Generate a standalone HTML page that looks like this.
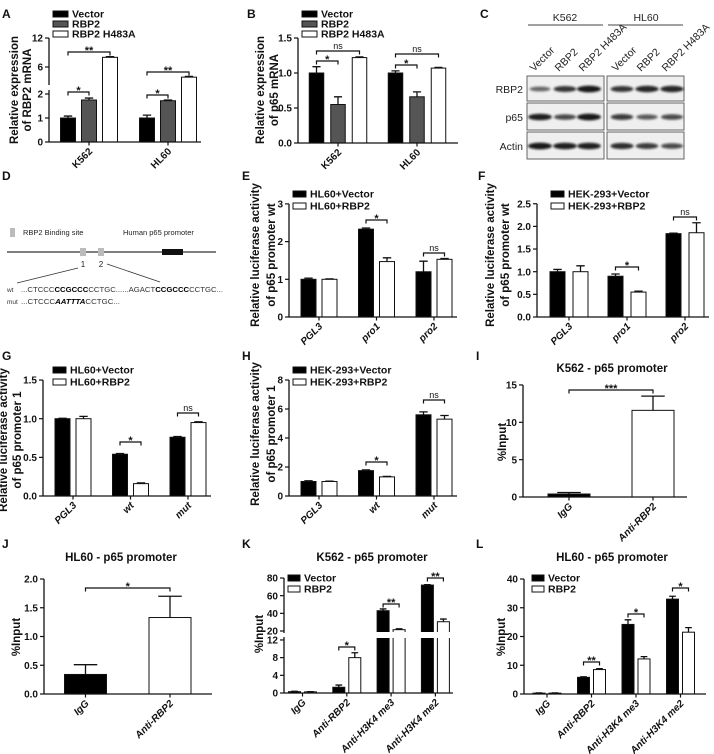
<!DOCTYPE html>
<html><head><meta charset="utf-8"><title>RBP2 / p65 figure</title>
<style>
html,body{margin:0;padding:0;background:#fff;}
svg{display:block;font-family:"Liberation Sans",Arial,sans-serif;}
</style></head>
<body>
<svg id="fig" width="714" height="754" viewBox="0 0 714 754" xmlns="http://www.w3.org/2000/svg">
<defs><filter id="blur" x="-50%" y="-100%" width="200%" height="300%"><feGaussianBlur stdDeviation="1.1"/></filter></defs>
</svg>
<script>
// ---------- DATA ----------
const catsA=['K562','HL60'];
const vecA=[1.0,1.0]; const vecAErr=[0.08,0.12];
const rbpA=[1.75,1.72]; const rbpAErr=[0.08,0.03];
const mutA=[8.0,3.9]; const mutAErr=[0.15,0.15];
const ticksA=[0,1,2,6,12];

const catsB=['K562','HL60'];
const vecB=[1.0,1.0]; const vecBErr=[0.09,0.03];
const rbpB=[0.55,0.66]; const rbpBErr=[0.11,0.07];
const mutB=[1.22,1.07]; const mutBErr=[0.01,0.01];
const ticksB=[0,0.5,1.0,1.5];

const catsE=['PGL3','pro1','pro2'];
const vecE=[1.0,2.33,1.2]; const vecEErr=[0.03,0.03,0.28];
const rbpE=[1.0,1.47,1.53]; const rbpEErr=[0.01,0.1,0.02];
const ticksE=[0,1,2,3];

const catsF=['PGL3','pro1','pro2'];
const vecF=[1.0,0.9,1.84]; const vecFErr=[0.05,0.05,0.01];
const rbpF=[1.0,0.55,1.86]; const rbpFErr=[0.13,0.02,0.22];
const ticksF=[0,0.5,1.0,1.5,2.0,2.5];

const catsG=['PGL3','wt','mut'];
const vecG=[1.0,0.54,0.76]; const vecGErr=[0.005,0.01,0.01];
const rbpG=[1.0,0.16,0.95]; const rbpGErr=[0.03,0.01,0.01];
const ticksG=[0,0.5,1.0,1.5];

const catsH=['PGL3','wt','mut'];
const vecH=[1.0,1.75,5.6]; const vecHErr=[0.05,0.05,0.2];
const rbpH=[1.0,1.32,5.3]; const rbpHErr=[0.02,0.03,0.25];
const ticksH=[0,2,4,6,8];

const catsI=['IgG','Anti-RBP2'];
const valsI=[0.4,11.6]; const valsIErr=[0.2,1.9];
const ticksI=[0,5,10,15];

const catsJ=['IgG','Anti-RBP2'];
const valsJ=[0.34,1.33]; const valsJErr=[0.17,0.37];
const ticksJ=[0,0.5,1.0,1.5,2.0];

const catsK=['IgG','Anti-RBP2','Anti-H3K4 me3','Anti-H3K4 me2'];
const vecK=[0.3,1.3,43,72]; const vecKErr=[0.1,0.5,2,0.5];
const rbpK=[0.25,8.0,21.5,30.5]; const rbpKErr=[0.05,1.1,1,3];
const ticksK=[0,4,8,12,20,40,60,80];

const catsL=['IgG','Anti-RBP2','Anti-H3K4 me3','Anti-H3K4 me2'];
const vecL=[0.3,5.8,24.2,33]; const vecLErr=[0.1,0.2,1.6,1];
const rbpL=[0.3,8.5,12.2,21.5]; const rbpLErr=[0.1,0.3,0.8,1.6];
const ticksL=[0,10,20,30,40];

// ---------- helpers ----------
const NS='http://www.w3.org/2000/svg';
const svg=document.getElementById('fig');
function el(tag,attrs,parent){const e=document.createElementNS(NS,tag);for(const k in attrs)e.setAttribute(k,attrs[k]);(parent||svg).appendChild(e);return e;}
function txt(x,y,s,attrs,parent){const t=el('text',Object.assign({x:x,y:y},attrs||{}),parent);t.textContent=s;return t;}
function fmt(v,d){return d?v.toFixed(d):String(v);}

function drawBracket(g,x1,x2,yy,label){
  const br=el('path',{d:'M'+x1+' '+(yy+3.5)+'V'+yy+'H'+x2+'V'+(yy+3.5),stroke:'#111','stroke-width':1.2,fill:'none'},g);
  
  
  const st=txt((x1+x2)/2,yy-(label==='ns'?2:-2),label,{'text-anchor':'middle','font-size':label==='ns'?9:11,'font-weight':label==='ns'?'normal':'bold',fill:'#111'},g);
  
  
}

function drawChart(L){
  const g=el('g',{});
  
  
  const y0=L.y(0);
  const n=L.series.length;
  const total=n*L.bw+(n-1)*L.gap;
  const centerOf=(i,k)=>L.c0+i*L.band-total/2+k*(L.bw+L.gap)+L.bw/2;
  L.series.forEach((s,k)=>{
    s.vals.forEach((v,i)=>{
      const left=centerOf(i,k)-L.bw/2;
      const yt=L.y(v);
      const fill=Array.isArray(s.fill)?s.fill[i]:s.fill;
      const r=el('rect',{x:left,y:yt,width:L.bw,height:Math.max(0.5,y0-yt),fill:fill,stroke:'#111','stroke-width':1},g);
      
      
      const ye=L.y(v+s.errs[i]);
      const cx=centerOf(i,k);
      const eb=el('path',{d:'M'+cx+' '+yt+'V'+ye+'M'+(cx-L.bw*0.28)+' '+ye+'H'+(cx+L.bw*0.28),stroke:'#111','stroke-width':1.3,fill:'none'},g);
      
      
    });
  });
  if(L.breakBand){
    const wb=el('rect',{x:L.x0+1,y:L.breakBand[0],width:L.xEnd-L.x0,height:L.breakBand[1]-L.breakBand[0],fill:'#fff'},g);
    
    
  }
  const top=L.y(L.ticks[L.ticks.length-1]);
  let d;
  if(L.axisBreak){d='M'+L.x0+' '+y0+'V'+L.axisBreak[1]+'M'+L.x0+' '+L.axisBreak[0]+'V'+top;}
  else d='M'+L.x0+' '+y0+'V'+top;
  const ya=el('path',{d:d,stroke:'#111','stroke-width':1.3,fill:'none'},g);
  
  
  L.ticks.forEach(t=>{
    const yy=L.y(t);
    const tl=el('line',{x1:L.x0-4,x2:L.x0,y1:yy,y2:yy,stroke:'#111','stroke-width':1.2},g);
    
    
    const tt=txt(L.x0-6,yy+3.6,fmt(t,L.dec),{'text-anchor':'end','font-size':10,'font-weight':'bold',fill:'#111'},g);
    
    
  });
  const xa=el('line',{x1:L.x0,x2:L.xEnd,y1:y0,y2:y0,stroke:'#111','stroke-width':1.3},g);
  
  
  L.cats.forEach((c,i)=>{
    const cx=L.c0+i*L.band;
    const xt=el('line',{x1:cx,x2:cx,y1:y0,y2:y0+3.5,stroke:'#111','stroke-width':1.2},g);
    
    
    const ax=cx+4, ay=y0+10;
    const lt=txt(ax,ay,c,{'text-anchor':'end','font-size':10,'font-weight':'bold','font-style':L.italic?'italic':'normal',fill:'#111',transform:'rotate(-45 '+ax+' '+ay+')'},g);
    
    
  });
  L.ylabel.forEach((s,j)=>{
    const lx=L.ylx[j], ly=L.yly;
    const yl=txt(lx,ly,s,{'text-anchor':'middle','font-size':11.5,'font-weight':'bold',fill:'#111',transform:'rotate(-90 '+lx+' '+ly+')'},g);
    
    
  });
  (L.sig||[]).forEach(sg=>drawBracket(g,centerOf(sg[0],sg[1]),centerOf(sg[0],sg[2]),sg[3],sg[4]));
  (L.sigCats||[]).forEach(sg=>drawBracket(g,centerOf(sg[0],0),centerOf(sg[1],0),sg[2],sg[3]));
  (L.legend||[]).forEach(lg=>{
    const lb=el('rect',{x:lg[0],y:lg[1],width:lg[2],height:6,fill:lg[4],stroke:'#111','stroke-width':1},g);
    
    
    const lt=txt(lg[0]+lg[2]+4,lg[1]+6.5,lg[3],{'font-size':10.5,'font-weight':'bold',fill:'#111'},g);
    
    
  });
  if(L.title){
    const tt=txt(L.title[1],L.title[2],L.title[0],{'text-anchor':'middle','font-size':11.5,'font-weight':'bold',fill:'#111'},g);
    
    
  }
}
function lin(zeroY,ppu){return v=>zeroY-v*ppu;}
const BLK='#000', GRY='#555', WHT='#fff';

drawChart({name:'panel-a-rbp2-mrna',x0:49,xEnd:201,c0:89,band:79,bw:15,gap:6,cats:catsA,ticks:ticksA,
  y:v=>v<=2.2?142-24*v:67-(v-6)*4.83,axisBreak:[85,90],
  series:[{key:'vector',vals:vecA,errs:vecAErr,fill:BLK},{key:'rbp2',vals:rbpA,errs:rbpAErr,fill:GRY},{key:'rbp2-h483a',vals:mutA,errs:mutAErr,fill:WHT}],
  ylabel:['Relative expression','of RBP2 mRNA'],ylx:[18,31],yly:90,
  sig:[[0,0,1,92,'*'],[0,0,2,52,'**'],[1,0,1,95,'*'],[1,0,2,72,'**']],
  legend:[[53,11,15,'Vector',BLK],[53,21,15,'RBP2',GRY],[53,31,15,'RBP2 H483A',WHT]]});
drawChart({name:'panel-b-p65-mrna',x0:298,xEnd:458,c0:338,band:79,bw:14.5,gap:7,cats:catsB,ticks:ticksB,dec:1,
  y:lin(143,70),
  series:[{key:'vector',vals:vecB,errs:vecBErr,fill:BLK},{key:'rbp2',vals:rbpB,errs:rbpBErr,fill:GRY},{key:'rbp2-h483a',vals:mutB,errs:mutBErr,fill:WHT}],
  ylabel:['Relative expression','of p65 mRNA'],ylx:[264,278],yly:90,
  sig:[[0,0,1,61,'*'],[0,0,2,51,'ns'],[1,0,1,65,'*'],[1,0,2,54,'ns']],
  legend:[[302,11,15,'Vector',BLK],[302,21,15,'RBP2',GRY],[302,31,15,'RBP2 H483A',WHT]]});
drawChart({name:'panel-e-luciferase-hl60',x0:289,xEnd:457,c0:319,band:57.5,bw:15,gap:6,cats:catsE,ticks:ticksE,italic:true,
  y:lin(317,37.7),
  series:[{key:'vector',vals:vecE,errs:vecEErr,fill:BLK},{key:'rbp2',vals:rbpE,errs:rbpEErr,fill:WHT}],
  ylabel:['Relative luciferase activity','of p65 promoter wt'],ylx:[259,275],yly:255,
  sig:[[1,0,1,220,'*'],[2,0,1,253,'ns']],
  legend:[[293,191,13,'HL60+Vector',BLK],[293,203,13,'HL60+RBP2',WHT]]});
drawChart({name:'panel-f-luciferase-hek293',x0:537,xEnd:709,c0:569,band:58,bw:15,gap:8,cats:catsF,ticks:ticksF,dec:1,italic:true,
  y:lin(317,45.3),
  series:[{key:'vector',vals:vecF,errs:vecFErr,fill:BLK},{key:'rbp2',vals:rbpF,errs:rbpFErr,fill:WHT}],
  ylabel:['Relative luciferase activity','of p65 promoter wt'],ylx:[494,509],yly:255,
  sig:[[1,0,1,267,'*'],[2,0,1,217,'ns']],
  legend:[[551,191,13,'HEK-293+Vector',BLK],[551,203,13,'HEK-293+RBP2',WHT]]});
drawChart({name:'panel-g-luciferase-hl60-promoter1',x0:43,xEnd:211,c0:73,band:57.5,bw:15,gap:6,cats:catsG,ticks:ticksG,dec:1,italic:true,
  y:lin(496,77.3),
  series:[{key:'vector',vals:vecG,errs:vecGErr,fill:BLK},{key:'rbp2',vals:rbpG,errs:rbpGErr,fill:WHT}],
  ylabel:['Relative luciferase activity','of p65 promoter 1'],ylx:[7,21],yly:440,
  sig:[[1,0,1,442,'*'],[2,0,1,413,'ns']],
  legend:[[53,367,13,'HL60+Vector',BLK],[53,379,13,'HL60+RBP2',WHT]]});
drawChart({name:'panel-h-luciferase-hek293-promoter1',x0:289,xEnd:457,c0:319,band:57.5,bw:15,gap:6,cats:catsH,ticks:ticksH,italic:true,
  y:lin(496,14.5),
  series:[{key:'vector',vals:vecH,errs:vecHErr,fill:BLK},{key:'rbp2',vals:rbpH,errs:rbpHErr,fill:WHT}],
  ylabel:['Relative luciferase activity','of p65 promoter 1'],ylx:[259,275],yly:434,
  sig:[[1,0,1,462,'*'],[2,0,1,400,'ns']],
  legend:[[293,367,13,'HEK-293+Vector',BLK],[293,379,13,'HEK-293+RBP2',WHT]]});
drawChart({name:'panel-i-chip-k562',x0:523,xEnd:687,c0:569,band:84,bw:42,gap:0,cats:catsI,ticks:ticksI,italic:true,
  y:lin(497,7.47),
  series:[{key:'enrichment',vals:valsI,errs:valsIErr,fill:[BLK,WHT]}],
  ylabel:['%Input'],ylx:[506],yly:442,sigCats:[[0,1,390,'***']],title:['K562 - p65 promoter',612,372]});
drawChart({name:'panel-j-chip-hl60',x0:44,xEnd:212,c0:85.5,band:84.5,bw:42,gap:0,cats:catsJ,ticks:ticksJ,dec:1,italic:true,
  y:lin(694,57.5),
  series:[{key:'enrichment',vals:valsJ,errs:valsJErr,fill:[BLK,WHT]}],
  ylabel:['%Input'],ylx:[20],yly:637,sigCats:[[0,1,588,'*']],title:['HL60 - p65 promoter',121,561]});
drawChart({name:'panel-k-chip-k562-histone',x0:284,xEnd:453,c0:302.5,band:44.3,bw:12,gap:4,cats:catsK,ticks:ticksK,italic:true,
  y:v=>v<=12?693-v*4.42:631-(v-20)*0.883,axisBreak:[633,637],breakBand:[632,638],
  series:[{key:'vector',vals:vecK,errs:vecKErr,fill:BLK},{key:'rbp2',vals:rbpK,errs:rbpKErr,fill:WHT}],
  ylabel:['%Input'],ylx:[263],yly:634,
  sig:[[1,0,1,647,'*'],[2,0,1,604,'**'],[3,0,1,578,'**']],
  legend:[[288,575,12,'Vector',BLK],[288,586,12,'RBP2',WHT]],title:['K562 - p65 promoter',372,561]});
drawChart({name:'panel-l-chip-hl60-histone',x0:524,xEnd:706,c0:547,band:44.5,bw:12,gap:4,cats:catsL,ticks:ticksL,italic:true,
  y:lin(694,2.875),
  series:[{key:'vector',vals:vecL,errs:vecLErr,fill:BLK},{key:'rbp2',vals:rbpL,errs:rbpLErr,fill:WHT}],
  ylabel:['%Input'],ylx:[505],yly:637,
  sig:[[1,0,1,662,'**'],[2,0,1,614,'*'],[3,0,1,588,'*']],
  legend:[[532,575,12,'Vector',BLK],[532,586,12,'RBP2',WHT]],title:['HL60 - p65 promoter',612,561]});

[['A',2,18],['B',247,18],['C',480,18],['D',2,180],['E',242,180],['F',478,180],['G',2,360],['H',242,360],['I',476,360],['J',2,548],['K',242,548],['L',476,548]].forEach(p=>{
  const t=txt(p[1],p[2],p[0],{'font-size':12,'font-weight':'bold',fill:'#111'});
  
  
});

// ---------- C western blot ----------
const blotLanes=['Vector','RBP2','RBP2 H483A'];
const blotRows=['RBP2','p65','Actin'];
const bandRBP2=[0.45,0.8,1.0,0.8,0.9,0.9];
const bandP65=[0.95,0.65,1.0,0.75,0.55,0.65];
const bandActin=[1.0,0.95,0.95,0.85,0.75,0.65];
(function(){
  const g=el('g',{});
  
  
  const laneX=[540,565,589,622,647,672];
  const rowY=[[76,101,89],[103,130,117],[132,159,146]];
  const bands=[bandRBP2,bandP65,bandActin];
  [[527,604,'K562',565],[607,684,'HL60',646]].forEach(b=>{
    const t=txt(b[3],21,b[2],{'text-anchor':'middle','font-size':10.5,fill:'#222'},g);
    
    
    const l=el('line',{x1:b[0]+1,x2:b[1]-1,y1:25,y2:25,stroke:'#444','stroke-width':0.9},g);
    
    
    rowY.forEach(r=>{
      const bx=el('rect',{x:b[0],y:r[0],width:b[1]-b[0],height:r[1]-r[0],fill:'#efefef',stroke:'#555','stroke-width':0.9},g);
      
      
    });
  });
  laneX.forEach((x,i)=>{
    const ax=x-6, ay=72;
    const t=txt(ax,ay,blotLanes[i%3],{'text-anchor':'start','font-size':10.5,fill:'#222',transform:'rotate(-45 '+ax+' '+ay+')'},g);
    
    
    rowY.forEach((r,j)=>{
      const v=bands[j][i];
      const e=el('ellipse',{cx:x,cy:r[2],rx:9+3*v,ry:1.6+1.8*v,fill:'#111','fill-opacity':0.35+0.6*v,filter:'url(#blur)'},g);
      
      
    });
  });
  blotRows.forEach((s,j)=>{
    const t=txt(523,rowY[j][2]+4,s,{'text-anchor':'end','font-size':10.5,fill:'#222'},g);
    
    
  });
})();

// ---------- D promoter diagram ----------
(function(){
  const g=el('g',{});
  
  
  const add=(tag,a,nm)=>{const e=el(tag,a,g);return e;};
  add('rect',{x:10,y:228,width:5,height:9,fill:'#bbb'},'legend-binding-site-swatch');
  let t=txt(23,235,'RBP2 Binding site',{'font-size':7.5,fill:'#222'},g);
  t=txt(123,235,'Human p65 promoter',{'font-size':7.5,fill:'#222'},g);
  add('line',{x1:7,x2:216,y1:252,y2:252,stroke:'#333','stroke-width':1.2},'promoter-line');
  add('rect',{x:80,y:248,width:6,height:8,fill:'#bbb'},'binding-site-1');
  add('rect',{x:98,y:248,width:6,height:8,fill:'#bbb'},'binding-site-2');
  add('rect',{x:162,y:249,width:21,height:6,fill:'#111'},'tss-box');
  t=txt(83,267,'1',{'font-size':8,'text-anchor':'middle',fill:'#222'},g);
  t=txt(101,267,'2',{'font-size':8,'text-anchor':'middle',fill:'#222'},g);
  add('line',{x1:78,y1:268,x2:17,y2:283,stroke:'#333','stroke-width':0.8},'zoom-line-1');
  add('line',{x1:107,y1:264,x2:160,y2:282,stroke:'#333','stroke-width':0.8},'zoom-line-2');
  t=txt(7,292,'wt',{'font-size':6.5,fill:'#333'},g);
  t=txt(7,304,'mut',{'font-size':6.5,fill:'#333'},g);
  const w=el('text',{x:21,y:292,'font-size':7,fill:'#333',textLength:202,lengthAdjust:'spacingAndGlyphs'},g);
  
  
  w.innerHTML='...CTCCC<tspan font-weight="bold" fill="#000">CCGCCC</tspan>CCTGC......AGACT<tspan font-weight="bold" fill="#000">CCGCCC</tspan>CCTGC...';
  const m=el('text',{x:21,y:304,'font-size':7,fill:'#333',textLength:99,lengthAdjust:'spacingAndGlyphs'},g);
  
  
  m.innerHTML='...CTCCC<tspan font-weight="bold" font-style="italic" fill="#000">AATTTA</tspan>CCTGC...';
})();
</script>
</body></html>
